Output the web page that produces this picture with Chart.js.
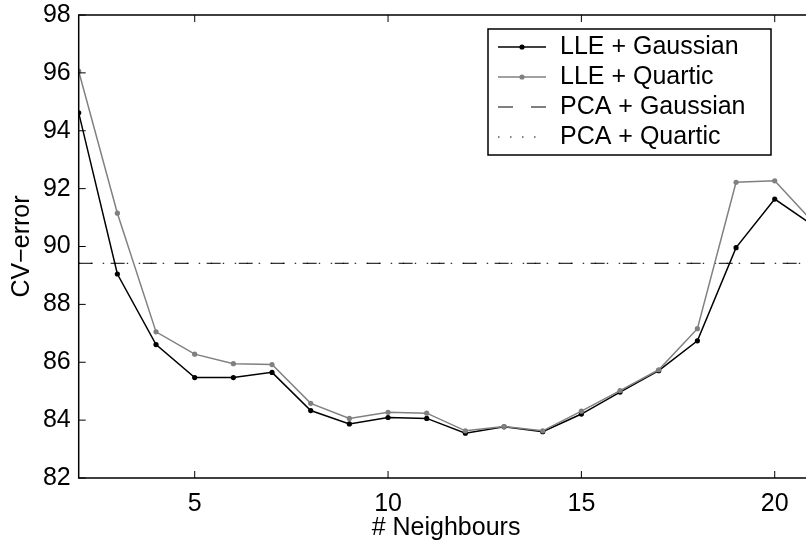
<!DOCTYPE html>
<html>
<head>
<meta charset="utf-8">
<script src="https://cdn.jsdelivr.net/npm/chart.js@4.4.1/dist/chart.umd.min.js"></script>
<style>
  body { margin: 0; background: #fff; overflow: hidden; }
  #wrap { width: 806px; height: 541px; overflow: hidden; }
</style>
</head>
<body>
<div id="wrap"><canvas id="chart" width="830" height="541"></canvas></div>
<script>
// data
const neighbours = [2, 3, 4, 5, 6, 7, 8, 9, 10, 11, 12, 13, 14, 15, 16, 17, 18, 19, 20, 21];
const lleGaussian = [94.62, 89.05, 86.61, 85.47, 85.47, 85.65, 84.33, 83.87, 84.09, 84.06,
    83.55, 83.77, 83.60, 84.21, 84.97, 85.71, 86.74, 89.96, 91.64, 90.72];
const lleQuartic = [96.06, 91.15, 87.05, 86.28, 85.95, 85.92, 84.58, 84.06, 84.27, 84.24,
    83.63, 83.78, 83.63, 84.31, 85.02, 85.74, 87.16, 92.22, 92.27, 90.83];
const pcaX = [2, 21];
const pcaGaussian = [89.42, 89.42];
const pcaQuartic = [89.42, 89.42];
const xTicks = [5, 10, 15, 20];
const yTicks = [82, 84, 86, 88, 90, 92, 94, 96, 98];

const FONT = 'Liberation Sans, Arial, Helvetica, sans-serif';

function pts(xs, ys) {
    return xs.map((x, i) => ({ x: x, y: ys[i] }));
}

// inward ticks on all four sides + box
const frame = {
    id: 'frame',
    afterDraw(chart) {
        const ctx = chart.ctx;
        const a = chart.chartArea;
        const xs = chart.scales.x;
        const ys = chart.scales.y;
        const len = 7;
        ctx.save();
        ctx.strokeStyle = '#000';
        ctx.lineWidth = 1.5;
        ctx.strokeRect(a.left, a.top, a.right - a.left, a.bottom - a.top);
        ctx.lineWidth = 1;
        ctx.beginPath();
        xTicks.forEach(v => {
            const p = xs.getPixelForValue(v);
            ctx.moveTo(p, a.bottom); ctx.lineTo(p, a.bottom - len);
            ctx.moveTo(p, a.top); ctx.lineTo(p, a.top + len);
        });
        yTicks.forEach(v => {
            const p = ys.getPixelForValue(v);
            ctx.moveTo(a.left, p); ctx.lineTo(a.left + len, p);
            ctx.moveTo(a.right, p); ctx.lineTo(a.right - len, p);
        });
        ctx.stroke();
        ctx.restore();
    }
};

// legend box inside the plot, upper right
const boxLegend = {
    id: 'boxLegend',
    afterDraw(chart) {
        const ctx = chart.ctx;
        const sets = chart.data.datasets;
        const bx = 488, by = 29, bw = 283, bh = 126;
        const rows = [47, 77, 107, 137];
        ctx.save();
        ctx.fillStyle = '#fff';
        ctx.fillRect(bx, by, bw, bh);
        ctx.strokeStyle = '#000';
        ctx.lineWidth = 1.5;
        ctx.strokeRect(bx, by, bw, bh);
        ctx.font = '25px ' + FONT;
        ctx.textBaseline = 'middle';
        ctx.textAlign = 'left';
        sets.forEach((ds, i) => {
            const y = rows[i];
            ctx.strokeStyle = ds.borderColor;
            ctx.lineWidth = ds.borderWidth;
            ctx.setLineDash(ds.legendDash || []);
            ctx.beginPath();
            ctx.moveTo(498, y);
            ctx.lineTo(546, y);
            ctx.stroke();
            ctx.setLineDash([]);
            if (ds.pointRadius > 0) {
                ctx.fillStyle = ds.borderColor;
                ctx.beginPath();
                ctx.arc(522, y, ds.pointRadius, 0, Math.PI * 2);
                ctx.fill();
            }
            ctx.fillStyle = '#000';
            ctx.fillText(ds.label, 560, y);
        });
        ctx.restore();
    }
};

const ctx = document.getElementById('chart').getContext('2d');
const myChart = new Chart(ctx, {
    type: 'line',
    data: {
        datasets: [{
            label: 'LLE + Gaussian',
            data: pts(neighbours, lleGaussian),
            borderColor: '#000000',
            backgroundColor: '#000000',
            borderWidth: 1.5,
            pointRadius: 2.6,
            pointBorderWidth: 0,
            order: 2
        }, {
            label: 'LLE + Quartic',
            data: pts(neighbours, lleQuartic),
            borderColor: '#808080',
            backgroundColor: '#808080',
            borderWidth: 1.5,
            pointRadius: 2.6,
            pointBorderWidth: 0,
            order: 1
        }, {
            label: 'PCA + Gaussian',
            data: pts(pcaX, pcaGaussian),
            borderColor: '#000000',
            borderWidth: 1,
            borderDash: [14, 18],
            legendDash: [15, 18],
            pointRadius: 0,
            order: 3
        }, {
            label: 'PCA + Quartic',
            data: pts(pcaX, pcaQuartic),
            borderColor: '#000000',
            borderWidth: 1,
            borderDash: [1.5, 10.5],
            legendDash: [1.5, 10.5],
            pointRadius: 0,
            order: 4
        }]
    },
    options: {
        responsive: false,
        animation: false,
        layout: { padding: { left: 0, top: 15, right: 16.6, bottom: 0 } },
        plugins: {
            legend: { display: false },
            tooltip: { enabled: false }
        },
        scales: {
            x: {
                type: 'linear',
                min: 2,
                max: 21,
                grid: { display: false, drawTicks: false },
                border: { display: false },
                afterBuildTicks: s => { s.ticks = xTicks.map(v => ({ value: v })); },
                afterFit: s => { s.height = 63; s.paddingLeft = 0; s.paddingRight = 0; },
                ticks: { color: '#000', padding: 11, maxRotation: 0, font: { family: FONT, size: 25 } },
                title: {
                    display: true,
                    text: '# Neighbours',
                    color: '#000',
                    padding: { top: 0, bottom: 0 },
                    font: { family: FONT, size: 25, lineHeight: 1 }
                }
            },
            y: {
                min: 82,
                max: 98,
                grid: { display: false, drawTicks: false },
                border: { display: false },
                afterBuildTicks: s => { s.ticks = yTicks.map(v => ({ value: v })); },
                afterFit: s => { s.width = 78.7; s.paddingTop = 0; s.paddingBottom = 0; },
                ticks: { color: '#000', padding: 8, font: { family: FONT, size: 25 } },
                title: {
                    display: true,
                    text: 'CV\u2212error',
                    color: '#000',
                    padding: { top: 10, bottom: 0 },
                    font: { family: FONT, size: 25, lineHeight: 1 }
                }
            }
        }
    },
    plugins: [frame, boxLegend]
});
</script>
</body>
</html>
